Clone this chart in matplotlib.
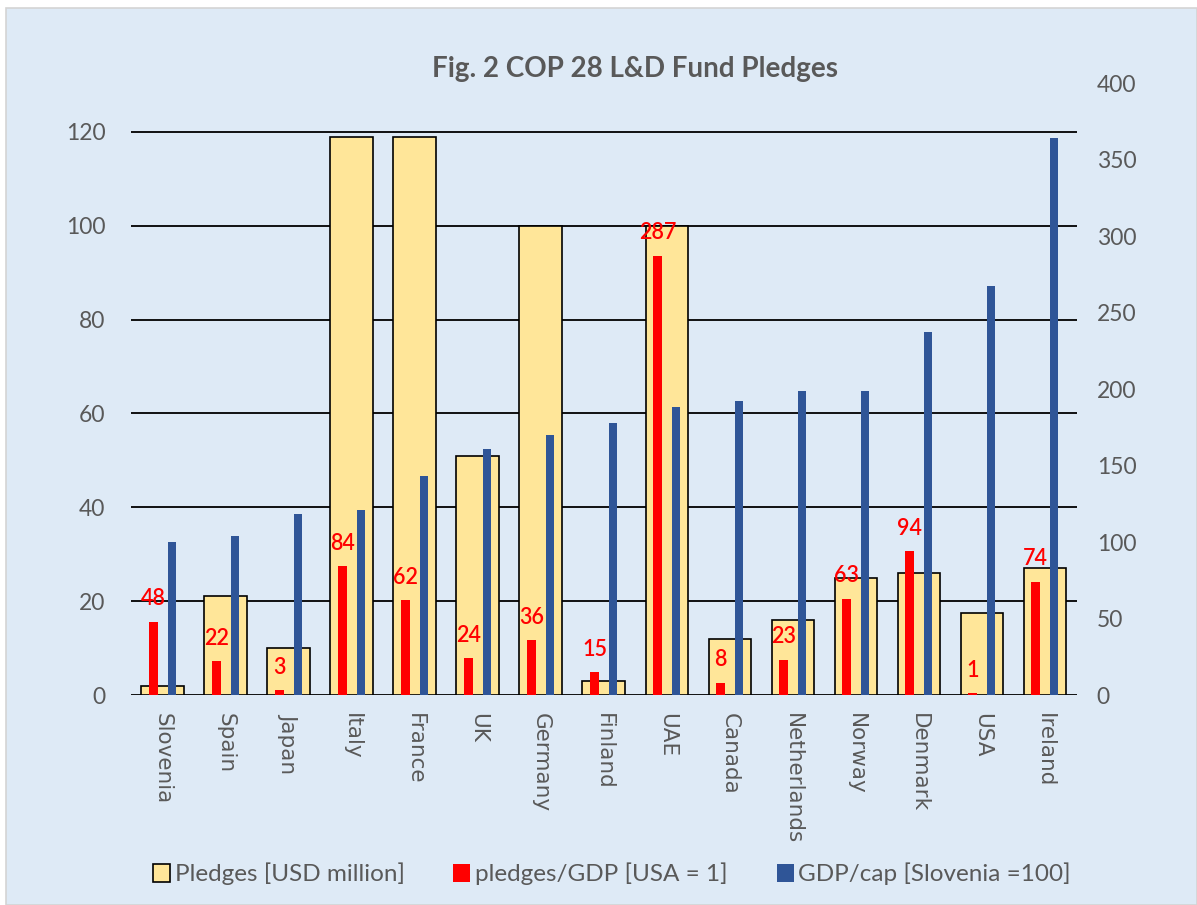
import numpy as np
import matplotlib
matplotlib.use("Agg")
from matplotlib import pyplot as plt
from matplotlib.patches import Rectangle

# data
countries = ['Slovenia', 'Spain', 'Japan', 'Italy', 'France', 'UK', 'Germany', 'Finland',
             'UAE', 'Canada', 'Netherlands', 'Norway', 'Denmark', 'USA', 'Ireland']
pledges = [2, 21, 10, 119, 119, 51, 100, 3, 100, 12, 16, 25, 26, 17.5, 27]
pledgesPerGdp = [48, 22, 3, 84, 62, 24, 36, 15, 287, 8, 23, 63, 94, 1, 74]
gdpPerCap = [100, 104, 118, 121, 143, 161, 170, 178, 188, 192, 199, 199, 237, 267, 364]

leftTicks = [0, 20, 40, 60, 80, 100, 120]
rightTicks = [0, 50, 100, 150, 200, 250, 300, 350, 400]

BG = '#DEEAF6'
GREY = '#595959'
YELLOW = '#FFE699'
RED = '#FF0000'
BLUE = '#2F5597'

W, H = 1197, 905
fig = plt.figure(figsize=(W / 100, H / 100), dpi=100)
fig.patch.set_facecolor('white')
fig.patches.append(Rectangle((6 / W, 0), 1 - 6 / W, 1 - 8 / H, transform=fig.transFigure,
                             facecolor=BG, edgecolor='#D4D4D4', linewidth=1.2, zorder=-10))

ax = fig.add_axes([131 / W, 1 - 695 / H, (1076.5 - 131) / W, (695 - 83) / H])
ax.set_facecolor(BG)
ax2 = ax.twinx()

x = np.arange(len(countries))

# pledges on the left axis
ax.bar(x, pledges, width=0.675, color=YELLOW, edgecolor='black', linewidth=1.2, zorder=3,
       label='Pledges [USD million]')
ax.set_ylim(0, 130.4)
ax.set_yticks(leftTicks)
ax.set_xlim(-0.5, len(countries) - 0.5)
for t in leftTicks:
    ax.axhline(t, color='black', linewidth=1.3, zorder=1)

# relative measures on the right axis
off = 0.145
redBars = ax2.bar(x - off, pledgesPerGdp, width=0.14, color=RED, zorder=3,
                  label='pledges/GDP [USA = 1]')
ax2.bar(x + off, gdpPerCap, width=0.13, color=BLUE, zorder=3,
        label='GDP/cap [Slovenia =100]')
ax2.set_ylim(0, 400)
ax2.set_yticks(rightTicks)

for bar, val in zip(redBars, pledgesPerGdp):
    ax2.annotate(str(val), (bar.get_x() + bar.get_width() / 2, bar.get_height()),
                 xytext=(0, 16.5), textcoords='offset points', ha='center', va='center',
                 color=RED, fontsize=15.5, family='Lato', fontweight='semibold')

for a in (ax, ax2):
    for s in a.spines.values():
        s.set_visible(False)
    a.tick_params(length=0)

ax.set_xticks(x)
ax.set_xticklabels(countries, rotation=270, fontsize=15.5, color=GREY, family='DejaVu Sans',
                   va='top', ha='center')
ax.tick_params(axis='x', pad=13)
ax.tick_params(axis='y', pad=18.5, labelsize=16.5, labelcolor=GREY)
ax2.tick_params(axis='y', pad=14.5, labelsize=16.5, labelcolor=GREY)
for lab in ax.get_yticklabels() + ax2.get_yticklabels():
    lab.set_family('Lato')

fig.text(635 / W, 1 - 77 / H, 'Fig. 2 COP 28 L&D Fund Pledges', ha='center', va='baseline',
         fontsize=20, fontweight='bold', color=GREY, family='Lato')

h1, l1 = ax.get_legend_handles_labels()
h2, l2 = ax2.get_legend_handles_labels()
fig.legend(h1 + h2, l1 + l2, loc='center', bbox_to_anchor=(612 / W, 1 - 874 / H), ncol=3,
           frameon=False, handlelength=0.7, handleheight=0.75, handletextpad=0.2,
           columnspacing=2.0, prop={'family': 'Lato', 'size': 17.5}, labelcolor=GREY)

plt.savefig('out.png', dpi=100, facecolor=fig.get_facecolor())
